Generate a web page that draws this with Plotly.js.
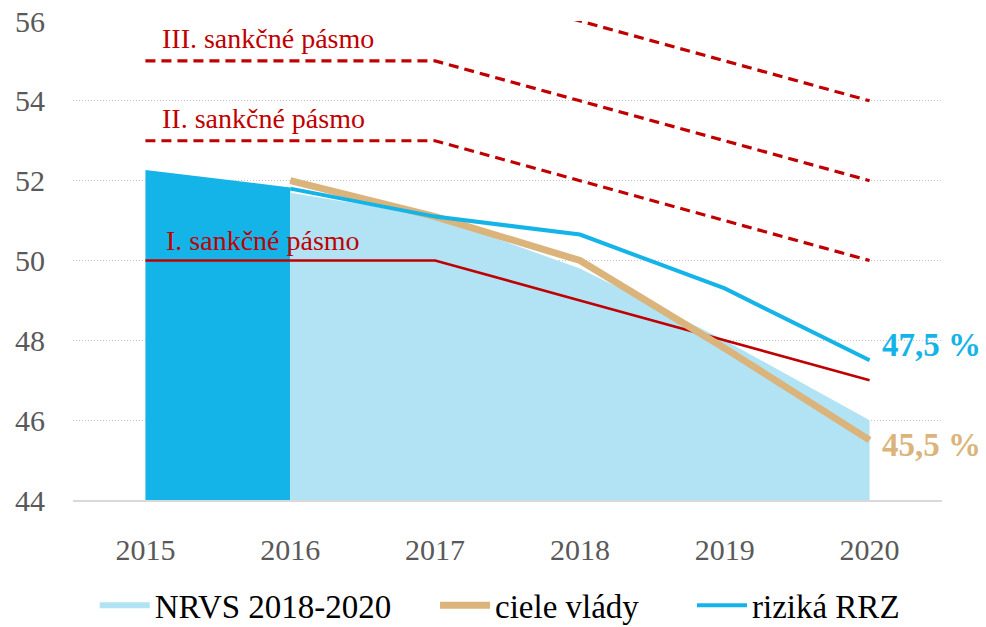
<!DOCTYPE html>
<html>
<head>
<meta charset="utf-8">
<script src="https://cdn.plot.ly/plotly-3.0.1.min.js"></script>
<style>
  html, body { margin: 0; padding: 0; background: #fff; }
  #chart { width: 986px; height: 627px; }
</style>
</head>
<body>
<div id="chart"></div>
<script>
// Chart data
const years = ['2015', '2016', '2017', '2018', '2019', '2020'];

const skutocnost = [52.27, 51.83, null, null, null, null];   // dark blue area 2015-2016
const nrvs = [null, 51.7, 51.1, 49.8, 48.0, 46.0];          // NRVS 2018-2020
const cieleVlady = [null, 52.0, 51.1, 50.0, 47.8, 45.5];    // ciele vlády
const rizikaRRZ = [null, 51.8, 51.1, 50.65, 49.3, 47.5];    // riziká RRZ

const pasmo1 = [50, 50, 50, 49, 48, 47];
const pasmo2 = [53, 53, 53, 52, 51, 50];
const pasmo3 = [55, 55, 55, 54, 53, 52];
const pasmo4 = [57, 57, 57, 56, 55, 54];

const pasmoLabels = ['I. sankčné pásmo', 'II. sankčné pásmo', 'III. sankčné pásmo'];
const legendNames = ['NRVS 2018-2020', 'ciele vlády', 'riziká RRZ'];

const FONT = '"Liberation Serif", "DejaVu Serif", serif';
const RED = '#C00000';
const TAN = '#DBB47C';
const CYAN = '#15B4E8';
const LIGHT = '#B1E3F5';

function bandTrace(y, dash, width) {
    return {
        x: years, y: y, type: 'scatter', mode: 'lines',
        line: { color: RED, width: width, dash: dash },
        showlegend: false, hoverinfo: 'skip'
    };
}

const traces = [
    {
        x: years, y: skutocnost, type: 'scatter', mode: 'none',
        fill: 'tozeroy', fillcolor: CYAN, showlegend: false
    },
    {
        x: years, y: nrvs, type: 'scatter', mode: 'none',
        fill: 'tozeroy', fillcolor: LIGHT, name: legendNames[0], legend: 'legend'
    },
    bandTrace(pasmo1, 'solid', 2.5),
    bandTrace(pasmo2, '10px,6px', 3.2),
    bandTrace(pasmo3, '10px,6px', 3.2),
    bandTrace(pasmo4, '10px,6px', 3.2),
    {
        x: years, y: cieleVlady, type: 'scatter', mode: 'lines',
        line: { color: TAN, width: 7 }, name: legendNames[1], legend: 'legend2'
    },
    {
        x: years, y: rizikaRRZ, type: 'scatter', mode: 'lines',
        line: { color: CYAN, width: 4 }, name: legendNames[2], legend: 'legend3'
    }
];

// band labels + end values
const annotations = [
    { x: 0, y: 55.55, text: pasmoLabels[2], xshift: 15 },
    { x: 0, y: 53.55, text: pasmoLabels[1], xshift: 15 },
    { x: 0, y: 50.5, text: pasmoLabels[0], xshift: 19 }
].map(a => ({
    ...a, xref: 'x', yref: 'y', xanchor: 'left', yanchor: 'middle',
    showarrow: false, font: { family: FONT, size: 28, color: RED }
}));

annotations.push({
    x: 5, y: rizikaRRZ[5], xref: 'x', yref: 'y', xanchor: 'left', yanchor: 'middle',
    xshift: 10, yshift: 15, showarrow: false,
    text: '<b>' + rizikaRRZ[5].toFixed(1).replace('.', ',') + ' %</b>',
    font: { family: FONT, size: 33, color: CYAN }
});
annotations.push({
    x: 5, y: cieleVlady[5], xref: 'x', yref: 'y', xanchor: 'left', yanchor: 'middle',
    xshift: 10, yshift: -5, showarrow: false,
    text: '<b>' + cieleVlady[5].toFixed(1).replace('.', ',') + ' %</b>',
    font: { family: FONT, size: 33, color: TAN }
});

// one small legend per item so the gaps can follow the reference
function legendAt(x) {
    return {
        orientation: 'h',
        x: x,
        xanchor: 'left',
        y: -0.22,
        yanchor: 'middle',
        itemwidth: 50,
        bgcolor: 'rgba(0,0,0,0)',
        font: { family: FONT, size: 33, color: '#000' }
    };
}

const layout = {
    width: 986,
    height: 627,
    paper_bgcolor: '#fff',
    plot_bgcolor: '#fff',
    margin: { l: 73, r: 44, t: 21, b: 127, autoexpand: false },
    font: { family: FONT, color: '#595959' },
    xaxis: {
        type: 'category',
        range: [-0.5, 5.5],
        showgrid: false,
        zeroline: false,
        showline: true,
        linecolor: '#D9D9D9',
        linewidth: 2,
        ticks: 'outside',
        ticklen: 22,
        tickcolor: 'rgba(0,0,0,0)',
        tickfont: { family: FONT, size: 30, color: '#595959' }
    },
    yaxis: {
        range: [44, 56],
        dtick: 2,
        showgrid: true,
        gridcolor: '#C4C4C4',
        griddash: '1px,2px',
        gridwidth: 1,
        zeroline: false,
        ticks: 'outside',
        ticklen: 21,
        tickcolor: 'rgba(0,0,0,0)',
        tickfont: { family: FONT, size: 30, color: '#595959' }
    },
    showlegend: true,
    legend: legendAt(0.025),
    legend2: legendAt(0.4166),
    legend3: legendAt(0.7123),
    annotations: annotations
};

Plotly.newPlot('chart', traces, layout, { displayModeBar: false, staticPlot: true });
</script>
</body>
</html>
